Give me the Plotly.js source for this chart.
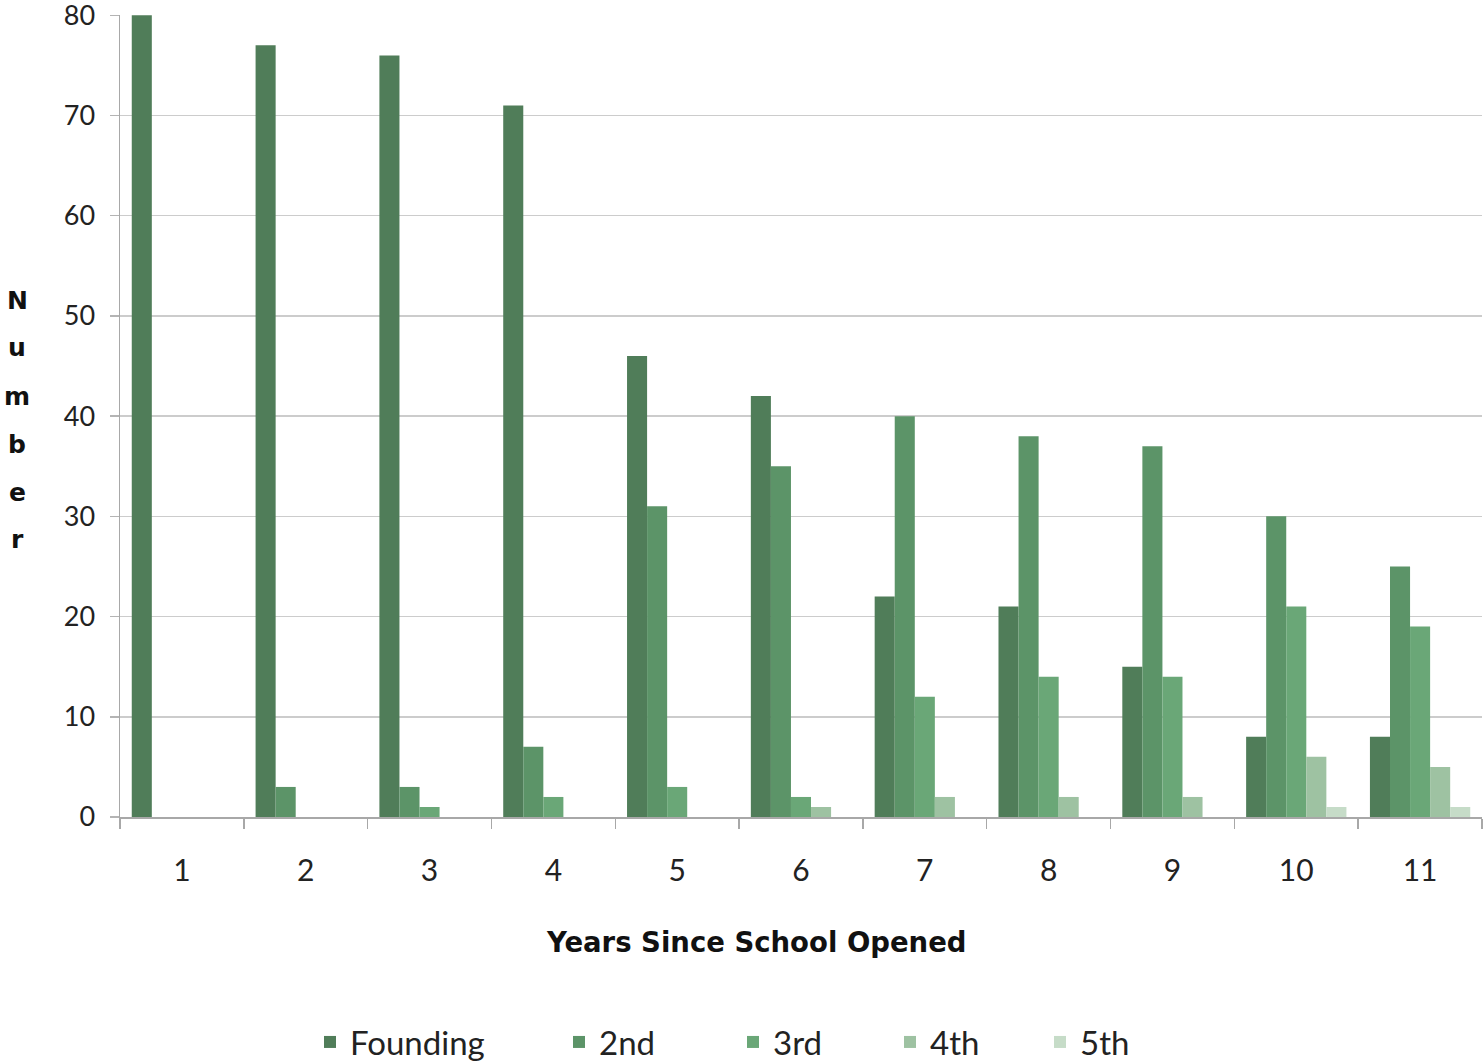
<!DOCTYPE html>
<html>
<head>
<meta charset="utf-8">
<script src="https://cdn.plot.ly/plotly-3.0.1.min.js"></script>
<style>
  html, body { margin: 0; padding: 0; background: #ffffff; }
  #chart { width: 1484px; height: 1063px; }
</style>
</head>
<body>
<div id="chart"></div>
<script>
// Years since the school opened
const years = ['1', '2', '3', '4', '5', '6', '7', '8', '9', '10', '11'];

// Number of staff in each cohort, by year
const founding = [80, 77, 76, 71, 46, 42, 22, 21, 15, 8, 8];
const second   = [0, 3, 3, 7, 31, 35, 40, 38, 37, 30, 25];
const third    = [0, 0, 1, 2, 3, 2, 12, 14, 14, 21, 19];
const fourth   = [0, 0, 0, 0, 0, 1, 2, 2, 2, 6, 5];
const fifth    = [0, 0, 0, 0, 0, 0, 0, 0, 0, 1, 1];

const seriesNames = ['Founding', '2nd', '3rd', '4th', '5th'];
const seriesColors = ['#507d59', '#5c9468', '#6aa777', '#9ec2a2', '#c6dcc8'];
const seriesValues = [founding, second, third, fourth, fifth];

const yTitle = 'Number';
const xTitle = 'Years Since School Opened';

const FONT = 'Lato, "Open Sans", sans-serif';
const BOLD = '"DejaVu Sans", Verdana, sans-serif';

// plot box in pixels, used to place the legend entries and titles
const W = 1484, H = 1063;
const M = { l: 120, r: 2, t: 15, b: 246, autoexpand: false };
const PW = W - M.l - M.r, PH = H - M.t - M.b;
const px = x => (x - M.l) / PW;
const py = y => (H - M.b - y) / PH;

// one legend per series so each entry sits at its own spot along the bottom
const legendLeft = [310, 559, 733, 890, 1040];
const legendIds = ['legend', 'legend2', 'legend3', 'legend4', 'legend5'];

const traces = seriesValues.map((vals, i) => ({
  type: 'bar',
  name: seriesNames[i],
  x: years,
  y: vals,
  legend: legendIds[i],
  showlegend: true,
  marker: { color: seriesColors[i], line: { width: 0 } },
  hoverinfo: 'x+y+name'
}));

const layout = {
  width: W,
  height: H,
  showlegend: true,
  paper_bgcolor: '#ffffff',
  plot_bgcolor: '#ffffff',
  margin: M,
  barmode: 'group',
  bargap: 0.19,
  bargroupgap: 0,
  font: { family: FONT, color: '#222222' },
  xaxis: {
    type: 'category',
    tickson: 'boundaries',
    ticks: 'outside',
    ticklen: 10,
    tickwidth: 1.5,
    tickcolor: '#a8a8a8',
    showline: true,
    linecolor: '#a8a8a8',
    linewidth: 1.5,
    showgrid: false,
    ticklabelstandoff: 26,
    tickfont: { family: FONT, size: 30, color: '#222222' }
  },
  yaxis: {
    range: [0, 80.03],
    autorange: false,
    tickmode: 'linear',
    tick0: 0,
    dtick: 10,
    ticks: 'outside',
    ticklen: 9,
    tickwidth: 1.5,
    tickcolor: '#b4b4b4',
    showline: true,
    linecolor: '#a8a8a8',
    linewidth: 1.5,
    showgrid: true,
    gridcolor: '#cccccc',
    gridwidth: 1.5,
    zeroline: false,
    ticklabelstandoff: 9,
    ticklabeloverflow: 'allow',
    tickfont: { family: FONT, size: 27, color: '#222222' }
  },
  annotations: [
    {
      text: '<b>' + xTitle + '</b>',
      xref: 'paper', yref: 'paper',
      x: px(756), y: py(942),
      xanchor: 'center', yanchor: 'middle',
      showarrow: false,
      font: { family: BOLD, size: 27.5, color: '#111111' }
    }
  ]
};

// vertical axis title, one letter per line
yTitle.split('').forEach((ch, i) => {
  layout.annotations.push({
    text: '<b>' + ch + '</b>',
    xref: 'paper', yref: 'paper',
    x: px(17), y: py(300 + i * 48),
    xanchor: 'center', yanchor: 'middle',
    showarrow: false,
    font: { family: BOLD, size: 25, color: '#111111' }
  });
});

legendIds.forEach((id, i) => {
  layout[id] = {
    orientation: 'h',
    x: px(legendLeft[i]),
    xanchor: 'left',
    y: py(1042),
    yanchor: 'middle',
    bgcolor: 'rgba(0,0,0,0)',
    font: { family: FONT, size: 33, color: '#222222' }
  };
});

Plotly.newPlot('chart', traces, layout, { displayModeBar: false, staticPlot: true });
</script>
</body>
</html>
